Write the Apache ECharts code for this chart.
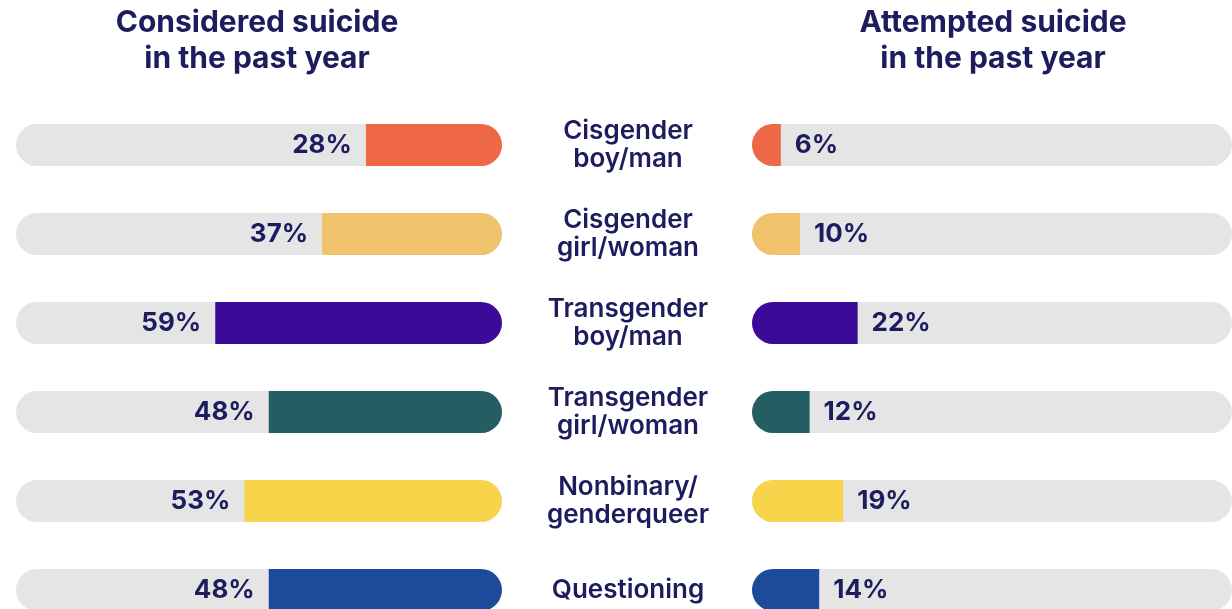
<!DOCTYPE html>
<html>
<head>
<meta charset="utf-8">
<script src="https://cdn.jsdelivr.net/npm/echarts@6/dist/echarts.min.js"></script>
<style>
  html, body { margin: 0; padding: 0; background: #fff; }
  #chart { width: 1232px; height: 609px; }
</style>
</head>
<body>
<div id="chart"></div>
<script>
var categories = ['Cisgender\nboy/man', 'Cisgender\ngirl/woman', 'Transgender\nboy/man', 'Transgender\ngirl/woman', 'Nonbinary/\ngenderqueer', 'Questioning']
var considered = [28, 37, 59, 48, 53, 48]
var attempted = [6, 10, 22, 12, 19, 14]
var colors = ['#EE6747', '#F0C26B', '#3B0A97', '#255E62', '#F8D44B', '#1E4A9C']
var full = categories.map(function () { return 100 })

var navy = '#1C1C5E'
var font = 'Inter'

function colored(vals, radius) {
    return vals.map(function (v, i) {
        return { value: v, itemStyle: { color: colors[i], borderRadius: radius } }
    })
}

var chart = echarts.init(document.getElementById('chart'))
var option = {
    animation: false,
    title: [
        {
            text: 'Considered suicide\nin the past year',
            left: 252, top: 0, textAlign: 'center',
            textStyle: { color: navy, fontFamily: font, fontWeight: 'bold', fontSize: 30, lineHeight: 36 }
        },
        {
            text: 'Attempted suicide\nin the past year',
            left: 988, top: 0, textAlign: 'center',
            textStyle: { color: navy, fontFamily: font, fontWeight: 'bold', fontSize: 30, lineHeight: 36 }
        }
    ],
    grid: [
        { left: 16, width: 486, top: 100.5, height: 534, outerBoundsMode: 'none' },
        { left: 752, width: 480, top: 100.5, height: 534, outerBoundsMode: 'none' }
    ],
    xAxis: [
        { gridIndex: 0, type: 'value', min: 0, max: 100, inverse: true, show: false },
        { gridIndex: 1, type: 'value', min: 0, max: 100, show: false }
    ],
    yAxis: [
        {
            gridIndex: 0, type: 'category', data: categories, inverse: true, position: 'right',
            axisLine: { show: false }, axisTick: { show: false },
            axisLabel: {
                align: 'center', margin: 126, color: navy, fontFamily: font,
                fontWeight: 600, fontSize: 26, lineHeight: 28, padding: [10, 0, 0, 0]
            }
        },
        {
            gridIndex: 1, type: 'category', data: categories, inverse: true,
            axisLine: { show: false }, axisTick: { show: false }, axisLabel: { show: false }
        }
    ],
    series: [
        {
            type: 'bar', xAxisIndex: 0, yAxisIndex: 0, data: full, barWidth: 42, barGap: '-100%',
            itemStyle: { color: '#E5E5E5', borderRadius: 21 }, silent: true, z: 1
        },
        {
            type: 'bar', xAxisIndex: 0, yAxisIndex: 0, data: colored(considered, [0, 21, 21, 0]), barWidth: 42, z: 2,
            label: {
                show: true, position: 'left', distance: 14, formatter: '{c}%',
                color: navy, fontFamily: font, fontWeight: 'bold', fontSize: 26
            }
        },
        {
            type: 'bar', xAxisIndex: 1, yAxisIndex: 1, data: full, barWidth: 42, barGap: '-100%',
            itemStyle: { color: '#E5E5E5', borderRadius: 21 }, silent: true, z: 1
        },
        {
            type: 'bar', xAxisIndex: 1, yAxisIndex: 1, data: colored(attempted, [21, 0, 0, 21]), barWidth: 42, z: 2,
            label: {
                show: true, position: 'right', distance: 14, formatter: '{c}%',
                color: navy, fontFamily: font, fontWeight: 'bold', fontSize: 26
            }
        }
    ]
}
chart.setOption(option)
</script>
</body>
</html>
